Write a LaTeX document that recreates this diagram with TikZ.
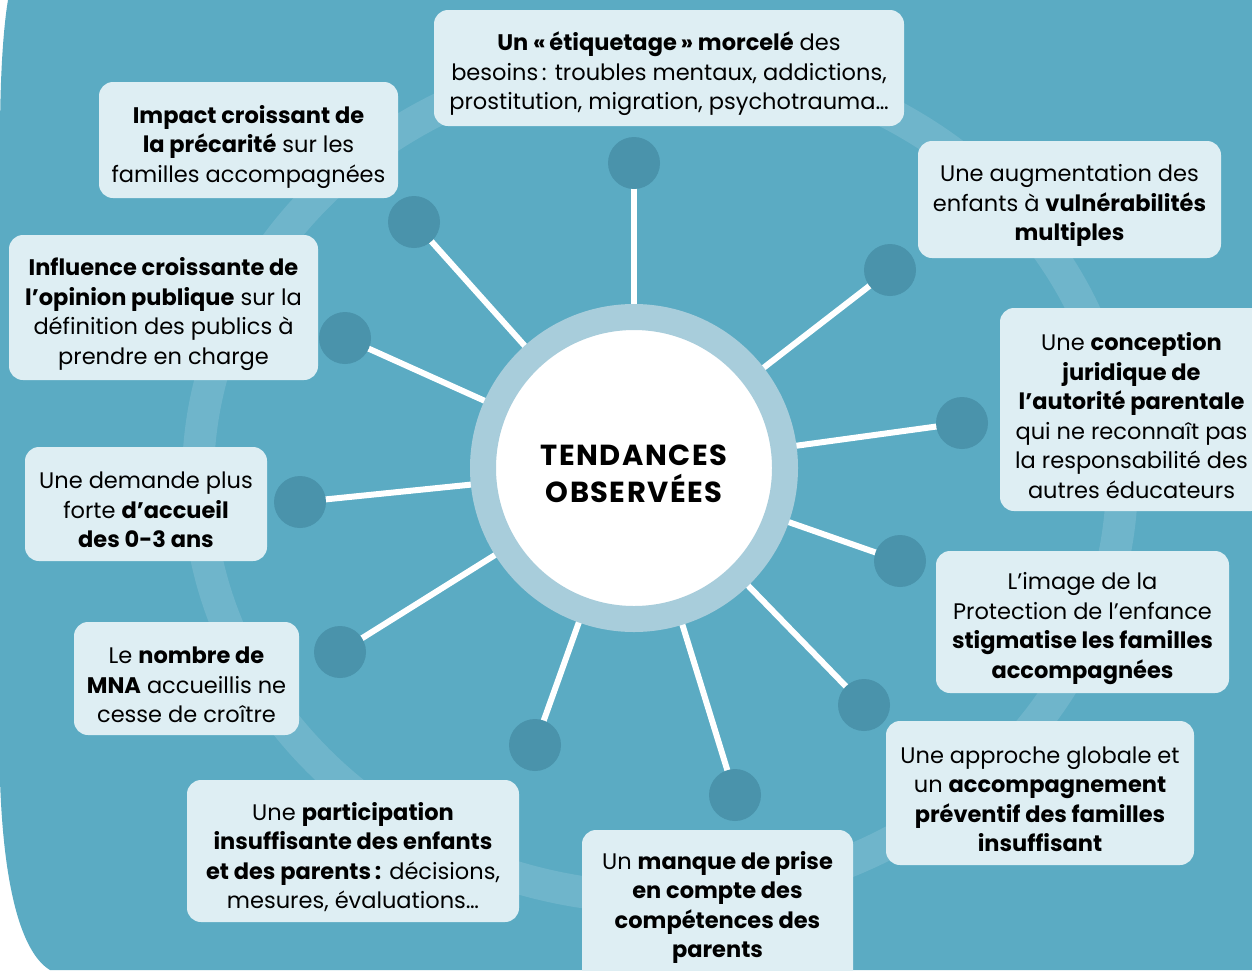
\documentclass[tikz,border=0pt]{standalone}
\usepackage{fontspec}
\setmainfont{Poppins}
\pgfdeclarelayer{back}
\pgfdeclarelayer{mid}
\pgfsetlayers{back,mid,main}
\definecolor{bgteal}{HTML}{5BABC3}
\definecolor{boxfill}{HTML}{DEEEF3}
\definecolor{dotcol}{HTML}{4A93AB}
\definecolor{ringcol}{HTML}{A8CDDB}
\definecolor{faint}{HTML}{6FB5CB}
\begin{document}
\begin{tikzpicture}[x=1pt,y=-1pt,
  card/.style={fill=boxfill, rounded corners=14pt, inner sep=0pt},
  cardtext/.style={align=center, inner sep=0pt, font=\fontsize{22.5}{29.5}\selectfont},
  dot/.style={circle, fill=dotcol, minimum size=52pt, inner sep=0pt},
  spoke/.style={draw=white, line width=6pt},
  hub/.style={circle, fill=white, draw=ringcol, line width=26pt, minimum size=302pt, inner sep=0pt},
  hubtext/.style={align=center, inner sep=0pt,
    font=\bfseries\fontsize{29}{37}\selectfont\addfontfeature{LetterSpace=5}}]
\useasboundingbox (0,0) rectangle (1252,970);
\begin{pgfonlayer}{back}
\fill[white] (0,0) rectangle (1252,970);
\fill[bgteal] (8,0) .. controls (3,30) and (0,80) .. (0,140) -- (0,780)
  .. controls (4,900) and (25,955) .. (50,970) -- (1252,970) -- (1252,0) -- cycle;
\draw[faint, line width=32pt] (660,478) ellipse [x radius=462, y radius=420];
\end{pgfonlayer}

\node[hub] (center) at (634,468) {};
\node[hubtext] (centertext) at (634,474) {TENDANCES\\OBSERVÉES};

\node[dot] (d1) at (634,163) {};
\node[dot] (d2) at (414,222) {};
\node[dot] (d3) at (345,338) {};
\node[dot] (d4) at (300,502) {};
\node[dot] (d5) at (340,652) {};
\node[dot] (d6) at (535,745) {};
\node[dot] (d7) at (735,795) {};
\node[dot] (d8) at (864,705) {};
\node[dot] (d9) at (900,561) {};
\node[dot] (d10) at (962,423) {};
\node[dot] (d11) at (890,270) {};

\begin{pgfonlayer}{mid}
\foreach \i in {1,...,11} \draw[spoke] (center.center) -- (d\i.center);
\end{pgfonlayer}

% cards
\node[card, minimum width=470pt, minimum height=116pt] (bA) at (669,68) {};
\node[card, minimum width=299pt, minimum height=116pt] (bB) at (248.5,140) {};
\node[card, minimum width=309pt, minimum height=145pt] (bC) at (163.5,307.5) {};
\node[card, minimum width=242pt, minimum height=114pt] (bD) at (146,504) {};
\node[card, minimum width=225pt, minimum height=113pt] (bE) at (186.5,678.5) {};
\node[card, minimum width=332pt, minimum height=142pt] (bF) at (353,851) {};
\node[card, minimum width=271pt, minimum height=155pt] (bG) at (717.5,907.5) {};
\node[card, minimum width=308pt, minimum height=144pt] (bH) at (1040,793) {};
\node[card, minimum width=293pt, minimum height=142pt] (bI) at (1082.5,622) {};
\node[card, minimum width=265pt, minimum height=203pt] (bJ) at (1132.5,409.5) {};
\node[card, minimum width=303pt, minimum height=117pt] (bK) at (1069.5,199.5) {};

% texts
\node[cardtext] (tA) at (669,74)
  {\textbf{Un «\,étiquetage\,» morcelé} des\\besoins\,: troubles mentaux, addictions,\\prostitution, migration, psychotrauma…};
\node[cardtext] (tB) at (248.5,147)
  {\textbf{Impact croissant de}\\\textbf{la précarité} sur les\\familles accompagnées};
\node[cardtext] (tC) at (163.5,314)
  {\textbf{Influence croissante de}\\\textbf{l’opinion publique} sur la\\définition des publics à\\prendre en charge};
\node[cardtext] (tD) at (146,510)
  {Une demande plus\\forte \textbf{d’accueil}\\\textbf{des 0-3 ans}};
\node[cardtext] (tE) at (186.5,685)
  {Le \textbf{nombre de}\\\textbf{MNA} accueillis ne\\cesse de croître};
\node[cardtext] (tF) at (353,857)
  {Une \textbf{participation}\\\textbf{insuffisante des enfants}\\\textbf{et des parents\,:} décisions,\\mesures, évaluations…};
\node[cardtext] (tG) at (717.5,907.5)
  {Un \textbf{manque de prise}\\\textbf{en compte des}\\\textbf{compétences des}\\\textbf{parents}};
\node[cardtext] (tH) at (1040,799)
  {Une approche globale et\\un \textbf{accompagnement}\\\textbf{préventif des familles}\\\textbf{insuffisant}};
\node[cardtext] (tI) at (1082.5,628.5)
  {L’image de la\\Protection de l’enfance\\\textbf{stigmatise les familles}\\\textbf{accompagnées}};
\node[cardtext] (tJ) at (1131.5,415.5)
  {Une \textbf{conception}\\\textbf{juridique de}\\\textbf{l’autorité parentale}\\qui ne reconnaît pas\\la responsabilité des\\autres éducateurs};
\node[cardtext] (tK) at (1069.5,205.5)
  {Une augmentation des\\enfants à \textbf{vulnérabilités}\\\textbf{multiples}};
\end{tikzpicture}
\end{document}
